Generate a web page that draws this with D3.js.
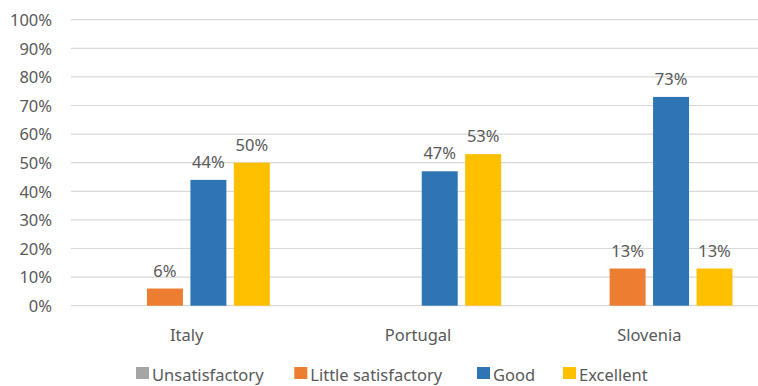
<!DOCTYPE html>
<html>
<head>
<meta charset="utf-8">
<script src="https://cdn.jsdelivr.net/npm/d3@7"></script>
<style>
  html, body { margin: 0; padding: 0; background: #fff; }
  svg text { font-family: "Noto Sans", "Open Sans", sans-serif; fill: #595959; }
</style>
</head>
<body>
<svg id="chart" width="758" height="386"></svg>
<script>
// Ratings by country (percent of respondents)
const countries = ["Italy", "Portugal", "Slovenia"];
const series = ["Unsatisfactory", "Little satisfactory", "Good", "Excellent"];
const colors = ["#A5A5A5", "#ED7D31", "#2E75B6", "#FFC000"];
const unsatisfactory = [0, 0, 0];
const littleSatisfactory = [6, 0, 13];
const good = [44, 47, 73];
const excellent = [50, 53, 13];
const yTicks = [0, 10, 20, 30, 40, 50, 60, 70, 80, 90, 100];

const valuesBySeries = [unsatisfactory, littleSatisfactory, good, excellent];

const svg = d3.select("#chart");
const plot = { left: 71, right: 765, top: 19.7, bottom: 305.7 };

const y = d3.scaleLinear().domain([0, 100]).range([plot.bottom, plot.top]);
const x0 = d3.scaleBand().domain(countries).range([plot.left, plot.right]).padding(0);
const outer = 32.5;
const x1 = d3.scaleBand().domain(series)
  .range([outer, x0.bandwidth() - outer])
  .paddingInner(0.172).paddingOuter(0);
const color = d3.scaleOrdinal().domain(series).range(colors);

// Gridlines
svg.append("g").selectAll("line").data(yTicks).join("line")
  .attr("x1", plot.left).attr("x2", plot.right)
  .attr("y1", d => y(d)).attr("y2", d => y(d))
  .attr("stroke", "#D9D9D9").attr("stroke-width", 1.2);

// Y axis labels
const yAxis = d3.axisLeft(y).tickValues(yTicks).tickFormat(d => d + "%").tickSize(0).tickPadding(0);
const gy = svg.append("g").attr("transform", "translate(52,0)").call(yAxis);
gy.select(".domain").remove();
gy.selectAll("text").attr("font-size", 16.5).attr("fill", "#595959")
  .attr("font-family", "Noto Sans, sans-serif").attr("dy", "0.35em");

// X axis labels
const xAxis = d3.axisBottom(x0).tickSize(0).tickPadding(0);
const gx = svg.append("g").attr("transform", "translate(0,341)").call(xAxis);
gx.select(".domain").remove();
gx.selectAll("text").attr("font-size", 16.5).attr("fill", "#595959")
  .attr("font-family", "Noto Sans, sans-serif").attr("dy", 0);

// Bars
const rows = [];
countries.forEach((c, ci) => {
  series.forEach((s, si) => {
    rows.push({ country: c, series: s, value: valuesBySeries[si][ci] });
  });
});

const groups = svg.append("g");
groups.selectAll("rect").data(rows.filter(d => d.value > 0)).join("rect")
  .attr("x", d => x0(d.country) + x1(d.series))
  .attr("width", x1.bandwidth())
  .attr("y", d => y(d.value))
  .attr("height", d => y(0) - y(d.value))
  .attr("fill", d => color(d.series));

// Value labels
groups.selectAll("text").data(rows.filter(d => d.value > 0)).join("text")
  .attr("x", d => x0(d.country) + x1(d.series) + x1.bandwidth() / 2)
  .attr("y", d => y(d.value) - 12)
  .attr("text-anchor", "middle")
  .attr("font-size", 16.5)
  .text(d => d.value + "%");

// Legend
const legendX = [136, 294.3, 477, 563];
const legend = svg.append("g");
const items = legend.selectAll("g").data(series).join("g")
  .attr("transform", (d, i) => `translate(${legendX[i]},0)`);
items.append("rect").attr("x", 0).attr("y", 367).attr("width", 13).attr("height", 12)
  .attr("fill", d => color(d));
items.append("text").attr("x", 16).attr("y", 381).attr("font-size", 16.5).text(d => d);
</script>
</body>
</html>
